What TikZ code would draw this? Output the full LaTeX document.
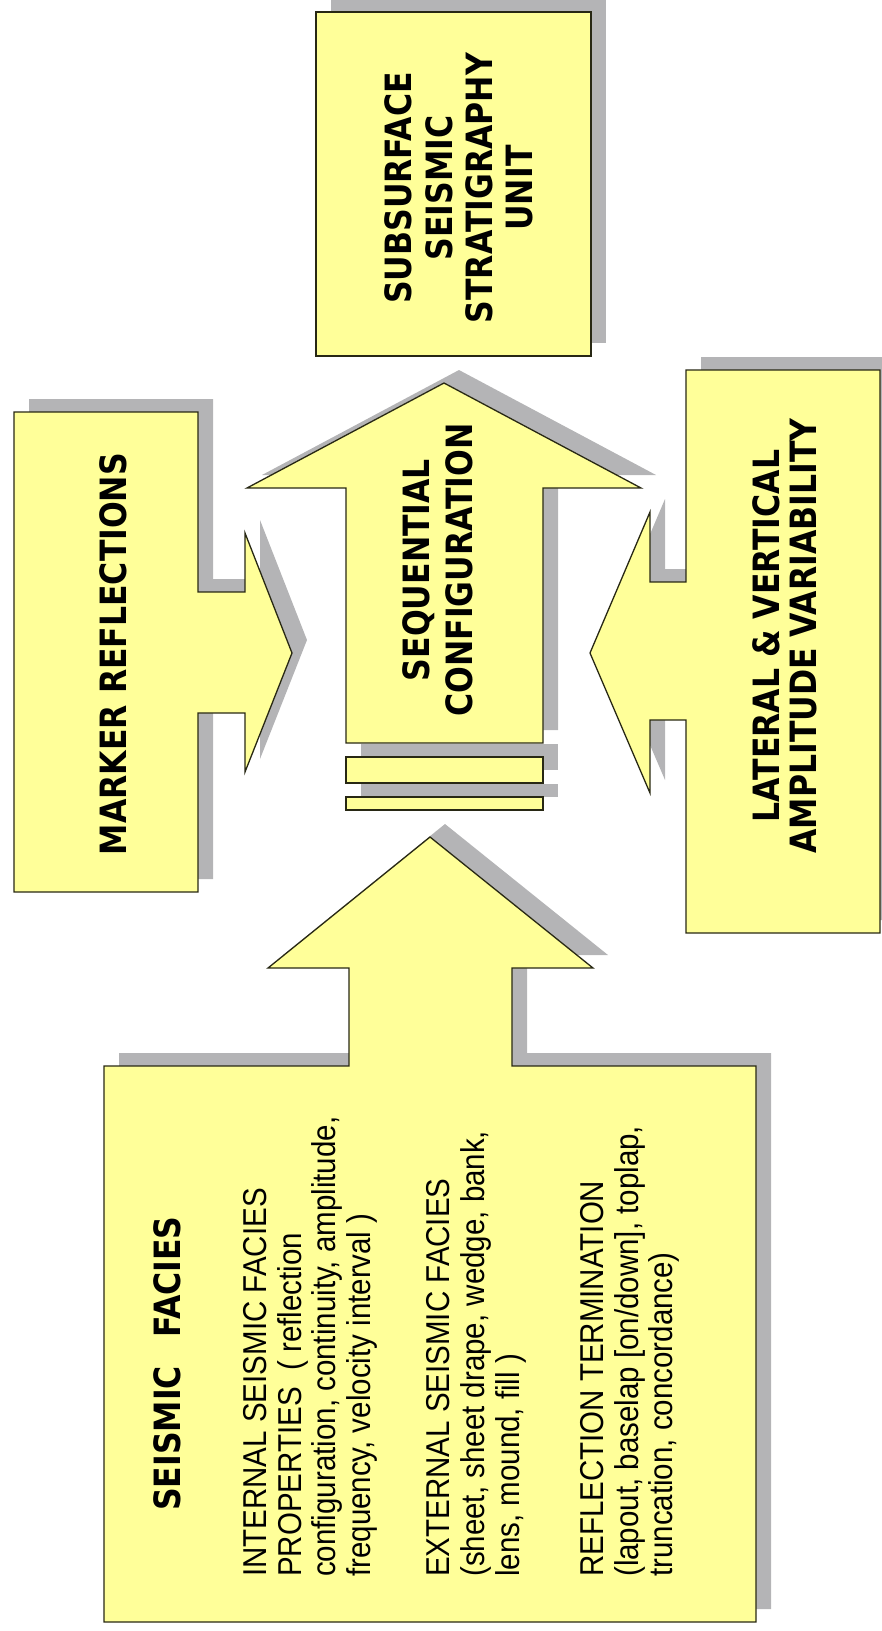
\documentclass[tikz,border=0pt]{standalone}
\usepackage{fontspec}
\setmainfont{Liberation Sans}
\newfontfamily\headfont{DejaVu Sans}
\definecolor{boxyellow}{RGB}{255,255,153}
\definecolor{shadowgray}{RGB}{180,180,182}
\definecolor{edgedark}{RGB}{40,40,20}

\begin{document}
\begin{tikzpicture}[x=1pt, y=-1pt,
            shadowlayer/.style={fill=shadowgray, draw=none, shift={(15,-13)}},
            filllayer/.style={fill=boxyellow, draw=edgedark, line width=1.3pt, line join=miter},
            headtext/.style={rotate=90, yscale=1.15, align=center, inner sep=0pt, font=\headfont\bfseries\fontsize{31.5}{35}\selectfont},
            bodytext/.style={rotate=90, yscale=1.12, align=left, inner sep=0pt, font=\fontsize{29.5}{31}\selectfont}]

            \useasboundingbox (0,0) rectangle (882,1631);

            % shadows first, then the yellow shapes
            \foreach \lay in {shadowlayer, filllayer} {
              % stratigraphy unit box
              \path[\lay] (316,12) rectangle (591,356);
              % sequential configuration arrow
              \path[\lay] (444,383) -- (641,488) -- (543,488) -- (543,743) -- (346,743) -- (346,488) -- (247,488) -- cycle;
              \path[\lay] (346,757) rectangle (543,783);
              \path[\lay] (346,797) rectangle (543,810);
              % marker reflections box with arrow
              \path[\lay] (14,412) -- (198,412) -- (198,592) -- (245,592) -- (245,533) -- (292,653) -- (245,772) -- (245,713) -- (198,713) -- (198,892) -- (14,892) -- cycle;
              % lateral and vertical box with arrow
              \path[\lay] (686,370) -- (880,370) -- (880,933) -- (686,933) -- (686,720) -- (650,720) -- (650,793) -- (590,653) -- (650,512) -- (650,582) -- (686,582) -- cycle;
              % seismic facies box with arrow
              \path[\lay] (104,1066) -- (349,1066) -- (349,968) -- (268,968) -- (430,837) -- (593,968) -- (512,968) -- (512,1066) -- (756,1066) -- (756,1622) -- (104,1622) -- cycle;
            }

            \node[headtext] (unit) at (459,188) {SUBSURFACE\\SEISMIC\\STRATIGRAPHY\\UNIT};
            \node[headtext, font=\headfont\bfseries\fontsize{31.5}{37}\selectfont] (seq) at (438,570) {SEQUENTIAL\\CONFIGURATION};
            \node[headtext] (marker) at (113,654) {MARKER REFLECTIONS};
            \node[headtext, font=\headfont\bfseries\fontsize{31.5}{32}\selectfont] (lateral) at (785,636) {LATERAL \& VERTICAL\\AMPLITUDE VARIABILITY};
            \node[headtext, anchor=north west] (facies) at (153,1511) {SEISMIC\hspace{0.9em}FACIES};
            \node[bodytext, anchor=north west] (props) at (243,1577) {%
              INTERNAL SEISMIC FACIES\\
              PROPERTIES~~( reflection\\
              configuration, continuity, amplitude,\\
              frequency, velocity interval )\\[40pt]
              EXTERNAL SEISMIC FACIES\\
              (sheet, sheet drape, wedge, bank,\\
              lens, mound, fill )\\[44pt]
              REFLECTION TERMINATION\\
              (lapout, baselap [on/down], toplap,\\
              truncation, concordance)};

\end{tikzpicture}
\end{document}
